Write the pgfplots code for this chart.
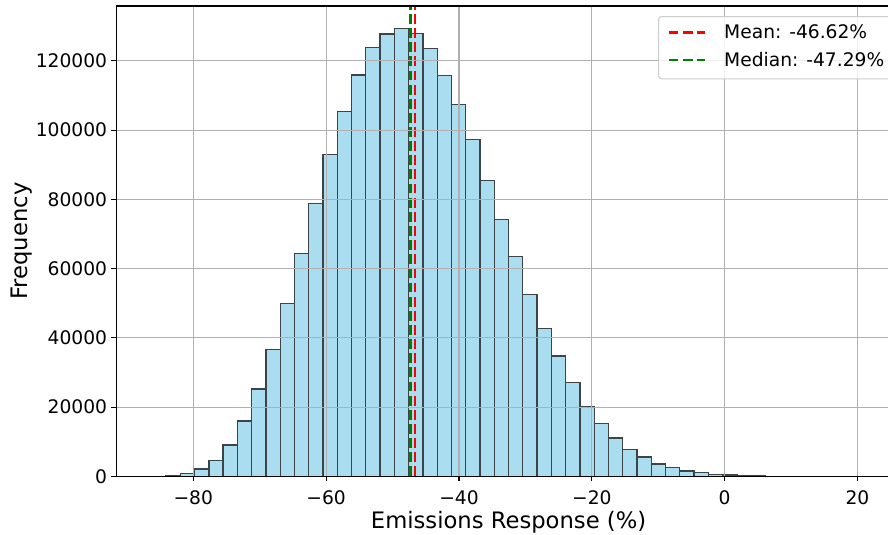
\documentclass[border=0pt]{standalone}
\usepackage{fontspec}
\setmainfont{DejaVu Sans}
\usepackage{pgfplots}
\pgfplotsset{compat=1.18}

\definecolor{barfill}{RGB}{171,221,241}
\definecolor{baredge}{RGB}{60,68,72}
\definecolor{gridgray}{RGB}{176,176,176}
\definecolor{mplgreen}{RGB}{0,128,0}
\definecolor{legframe}{RGB}{204,204,204}

\begin{document}
\begin{tikzpicture}
\begin{axis}[
  at={(0,0)}, anchor=south west,
  scale only axis, width=785bp, height=470.3bp,
  xmin=-91.63, xmax=26.56, ymin=0, ymax=135830,
  axis on top,
  axis line style={black, line width=1.07bp},
  grid=major, major grid style={gridgray, line width=1.07bp},
  tick align=outside, tick pos=left, major tick length=4.67bp,
  tick style={black, line width=1.07bp},
  scaled x ticks=false, scaled y ticks=false,
  xtick={-80,-60,-40,-20,0,20},
  xticklabels={−80,−60,−40,−20,0,20},
  ytick={0,20000,40000,60000,80000,100000,120000},
  yticklabels={0,20000,40000,60000,80000,100000,120000},
  ticklabel style={font=\fontsize{18.67bp}{22bp}\selectfont},
  xticklabel style={inner sep=0pt, anchor=north, yshift=-9.7bp},
  yticklabel style={inner sep=0pt, anchor=east, xshift=-4.1bp},
  xlabel={Emissions Response (\%)},
  ylabel={Frequency},
  label style={font=\fontsize{22.67bp}{26bp}\selectfont, inner sep=0pt},
  xlabel style={at={(axis description cs:0.5,0)}, anchor=base, yshift=-51.9bp},
  ylabel style={at={(axis description cs:-0.1132,0.5)}, anchor=base},
  legend cell align=left,
  legend image code/.code={%
    \draw[#1] (0bp,1.6bp) -- (36bp,1.6bp);
    \path (54.3bp,1.6bp);},
  legend style={at={(0.6904,0.9787)}, anchor=north west,
    draw=legframe, line width=1.07bp, fill=white, fill opacity=0.8,
    text opacity=1, rounded corners=3bp,
    inner xsep=8.7bp, inner ysep=8.3bp, row sep=9.7bp,
    font=\fontsize{18.67bp}{22bp}\selectfont,
    nodes={inner sep=0pt, text height=14bp, text depth=4bp}},
]
% histogram: bin left edges and counts (last point closes the final bin)
\addplot[ybar interval, fill=barfill, draw=baredge, line width=1.33bp, forget plot]
  coordinates {
  (-86.26,10) (-84.11,250) (-81.96,800) (-79.81,2100) (-77.66,4600)
  (-75.52,9050) (-73.37,16000) (-71.22,25250) (-69.07,36600) (-66.92,49850)
  (-64.77,64300) (-62.62,78700) (-60.47,93000) (-58.32,105300) (-56.17,115900)
  (-54.03,123900) (-51.88,127700) (-49.73,129350) (-47.58,127900) (-45.43,123550)
  (-43.28,115750) (-41.13,107350) (-38.98,97250) (-36.83,85450) (-34.68,74100)
  (-32.54,63400) (-30.39,52450) (-28.24,42700) (-26.09,34700) (-23.94,27100)
  (-21.79,20150) (-19.64,15200) (-17.49,11100) (-15.34,7800) (-13.19,5600)
  (-11.05,3550) (-8.90,2500) (-6.75,1550) (-4.60,1050) (-2.45,600)
  (-0.30,380) (1.85,150) (4.00,50) (6.15,15) (8.30,5)
  (10.45,2) (12.59,1) (14.74,1) (16.89,0) (19.04,0)
  (21.19,0)
  };
\addplot[red, line width=2.67bp, dash pattern=on 9.87bp off 4.27bp]
  coordinates {(-46.62,0) (-46.62,135830)};
\addlegendentry{Mean: -46.62\%}
\addplot[mplgreen, line width=2.67bp, dash pattern=on 9.87bp off 4.27bp]
  coordinates {(-47.29,0) (-47.29,135830)};
\addlegendentry{Median: -47.29\%}
\end{axis}
\pgfresetboundingbox
\useasboundingbox (-116.05bp,-58.7bp) rectangle (771.95bp,476.3bp);
\end{tikzpicture}
\end{document}
